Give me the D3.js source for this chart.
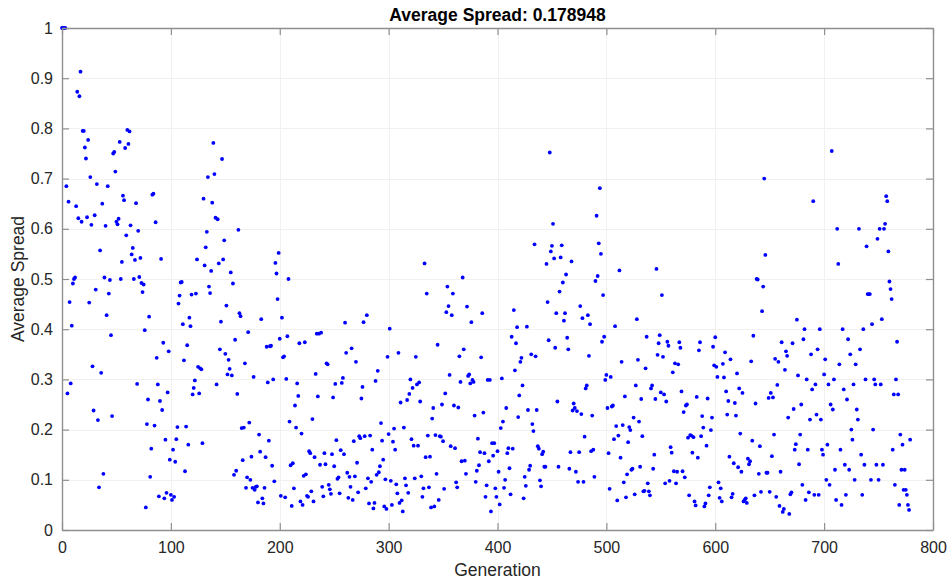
<!DOCTYPE html>
<html>
<head>
<meta charset="utf-8">
<script src="https://cdn.jsdelivr.net/npm/d3@7"></script>
<style>
  body { margin: 0; background: #fff; }
  svg { display: block; }
  text { font-family: Arial, "Liberation Sans", sans-serif; }
</style>
</head>
<body>
<svg id="chart" width="950" height="582"></svg>
<script>
// Chart text
const chartTitle = "Average Spread: 0.178948";
const xLabel = "Generation";
const yLabel = "Average Spread";

// Axis ticks
const xTicks = [0, 100, 200, 300, 400, 500, 600, 700, 800];
const xTickLabels = ["0", "100", "200", "300", "400", "500", "600", "700", "800"];
const yTicks = [0, 0.1, 0.2, 0.3, 0.4, 0.5, 0.6, 0.7, 0.8, 0.9, 1];
const yTickLabels = ["0", "0.1", "0.2", "0.3", "0.4", "0.5", "0.6", "0.7", "0.8", "0.9", "1"];

// Average spread per generation, one block of generations per array
const spread000 = [1,1,1,1,.685,.272,.654,.454,.292,.407,
  .491,.500,.503,.645,.873,.621,.864,.913,.614,.795,
  .795,.762,.740,.623,.777,.453,.703,.608,.326,.238,
  .627,.479,.689,.219,.085,.557,.313,.650,.112,.503,
  .606,.428,.685,.471,.498,.388,.227,.750,.753,.714,
  .614,.609,.620,.773,.500,.534,.666,.657,.761,.587,
  .797,.769,.794,.607,.549,.562,.500,.538,.651,.291,
  .596,.504,.542,.492,.474,.489,.398,.045,.211,.260,
  .425,.106,.162,.668,.670,.208,.613,.343,.290,.067,
  .257,.540,.239,.373,.063,.180,.074,.274,.356,.140];
const spread100 = [.070,.060,.160,.066,.136,.181,.205,.451,.467,.493,
  .494,.410,.338,.117,.206,.368,.170,.423,.406,.469,
  .270,.283,.298,.471,.539,.325,.272,.322,.320,.173,
  .660,.527,.563,.594,.703,.485,.472,.516,.652,.771,
  .709,.622,.290,.619,.531,.360,.415,.739,.539,.577,
  .351,.447,.310,.339,.321,.513,.308,.491,.110,.379,
  .118,.271,.598,.432,.426,.203,.139,.204,.332,.084,
  .105,.394,.214,.100,.146,.084,.305,.080,.086,.087,
  .055,.190,.156,.420,.063,.053,.084,.145,.365,.294,
  .178,.366,.367,.128,.300,.097,.532,.511,.460,.552];
const spread200 = [.381,.068,.423,.344,.346,.065,.301,.386,.500,.216,
  .129,.048,.133,.083,.248,.204,.292,.267,.372,.057,
  .192,.050,.108,.374,.111,.068,.066,.157,.153,.077,
  .221,.057,.145,.311,.391,.266,.391,.130,.393,.086,
  .067,.153,.131,.332,.330,.090,.081,.072,.151,.264,
  .127,.291,.179,.102,.105,.073,.159,.293,.303,.151,
  .413,.353,.114,.064,.106,.086,.362,.060,.177,.107,
  .335,.134,.075,.187,.183,.262,.285,.414,.187,.083,
  .428,.103,.053,.188,.096,.160,.043,.054,.297,.110,
  .317,.115,.127,.213,.178,.140,.047,.101,.042,.345];
const spread300 = [.191,.401,.098,.050,.176,.202,.160,.091,.073,.353,
  .054,.254,.059,.037,.204,.103,.089,.259,.074,.271,
  .300,.181,.283,.168,.103,.345,.290,.168,.294,.256,
  .107,.066,.083,.531,.145,.471,.188,.085,.146,.045,
  .222,.243,.047,.189,.112,.369,.060,.187,.186,.250,
  .177,.082,.272,.434,.485,.446,.309,.167,.428,.471,
  .248,.163,.095,.085,.244,.346,.295,.137,.503,.360,
  .138,.112,.445,.307,.310,.292,.414,.299,.295,.228,
  .096,.118,.182,.129,.155,.344,.432,.234,.153,.066,
  .089,.299,.137,.299,.037,.173,.148,.173,.083,.066];
const spread400 = [.157,.116,.051,.203,.302,.216,.084,.100,.243,.153,
  .163,.123,.071,.385,.162,.438,.318,.372,.404,.225,
  .268,.335,.343,.288,.063,.106,.088,.405,.239,.120,
  .128,.350,.211,.197,.569,.346,.239,.167,.162,.099,
  .087,.151,.156,.126,.126,.530,.454,.378,.752,.555,
  .566,.610,.541,.363,.432,.256,.126,.475,.543,.567,
  .493,.417,.432,.509,.383,.360,.122,.155,.535,.238,
  .252,.243,.116,.237,.096,.155,.446,.231,.422,.096,
  .186,.282,.288,.428,.347,.410,.157,.228,.160,.106,
  .496,.626,.506,.571,.681,.550,.375,.468,.385,.299];
const spread500 = [.309,.243,.153,.082,.305,.246,.248,.181,.406,.207,
  .059,.188,.517,.144,.335,.209,.095,.266,.065,.111,
  .175,.205,.199,.120,.122,.224,.071,.288,.420,.339,
  .216,.126,.261,.187,.077,.078,.322,.385,.093,.077,
  .069,.282,.288,.122,.150,.261,.520,.349,.372,.388,
  .274,.468,.345,.270,.093,.256,.375,.367,.098,.165,
  .154,.314,.117,.332,.093,.116,.330,.374,.363,.276,
  .117,.235,.105,.248,.250,.184,.069,.189,.188,.154,
  .185,.057,.049,.265,.144,.358,.374,.187,.227,.204,
  .047,.053,.168,.262,.069,.085,.199,.224,.365,.328];
const spread600 = [.384,.325,.305,.095,.064,.083,.057,.331,.304,.354,
  .276,.230,.257,.146,.340,.065,.072,.133,.253,.228,
  .312,.125,.282,.192,.116,.273,.057,.060,.063,.054,
  .142,.131,.137,.336,.178,.387,.069,.252,.500,.499,
  .112,.167,.076,.436,.485,.700,.548,.114,.114,.263,
  .076,.273,.147,.264,.190,.341,.066,.289,.335,.048,
  .116,.374,.036,.042,.319,.356,.347,.224,.032,.071,
  .075,.372,.241,.160,.171,.419,.308,.131,.190,.250,
  .090,.380,.400,.060,.300,.160,.075,.220,.350,.280,
  .655,.070,.290,.230,.360,.070,.400,.220,.160,.150];
const spread700 = [.310,.340,.100,.170,.290,.090,.250,.755,.240,.300,
  .120,.060,.600,.530,.330,.160,.050,.400,.280,.130,
  .070,.260,.380,.120,.350,.200,.180,.290,.100,.330,
  .240,.220,.600,.360,.150,.070,.400,.130,.300,.565,
  .470,.470,.470,.100,.410,.200,.300,.290,.130,.580,
  .100,.600,.290,.420,.130,.600,.610,.665,.655,.555,
  .495,.480,.460,.160,.270,.090,.300,.375,.270,.050,
  .190,.120,.170,.080,.120,.080,.070,.050,.040,.180];

const spreadBlocks = [spread000, spread100, spread200, spread300, spread400, spread500, spread600, spread700];
const points = spreadBlocks.flat().map((v, i) => ({ generation: i, spread: v }));

// Layout
const svg = d3.select("#chart");
const W = 950, H = 582;
const plot = { left: 62, right: 933, top: 28, bottom: 530 };

const x = d3.scaleLinear().domain([0, 800]).range([plot.left, plot.right]);
const y = d3.scaleLinear().domain([0, 1]).range([plot.bottom, plot.top]);

svg.append("rect").attr("width", W).attr("height", H).attr("fill", "#fff");

// Faint grid
const grid = svg.append("g").attr("stroke", "#f1f1f1").attr("stroke-width", 1);
grid.selectAll("line.gx").data(xTicks.slice(1, -1)).join("line")
  .attr("x1", d => Math.round(x(d)) + 0.5).attr("x2", d => Math.round(x(d)) + 0.5)
  .attr("y1", plot.top).attr("y2", plot.bottom);
grid.selectAll("line.gy").data(yTicks.slice(1, -1)).join("line")
  .attr("x1", plot.left).attr("x2", plot.right)
  .attr("y1", d => Math.round(y(d)) + 0.5).attr("y2", d => Math.round(y(d)) + 0.5);

// Scatter points
svg.append("g").selectAll("circle").data(points).join("circle")
  .attr("cx", d => x(d.generation))
  .attr("cy", d => y(d.spread))
  .attr("r", 1.9)
  .attr("fill", "#0000ff");

// Axes with inward ticks on all four sides
const axisColor = "#8f8f8f";
const tickLen = 7;
function styleAxis(g) {
  g.select(".domain").attr("stroke", axisColor).attr("stroke-width", 1.4);
  g.selectAll(".tick line").attr("stroke", axisColor).attr("stroke-width", 1.2);
  g.selectAll(".tick text").attr("fill", "#262626").style("font-size", "16px")
    .style("font-family", "Arial, 'Liberation Sans', sans-serif");
}

svg.append("g").attr("transform", `translate(0,${plot.bottom})`)
  .call(d3.axisBottom(x).tickValues(xTicks).tickFormat((d, i) => xTickLabels[i])
    .tickSizeInner(-tickLen).tickSizeOuter(0).tickPadding(12))
  .call(styleAxis);
svg.append("g").attr("transform", `translate(0,${plot.top})`)
  .call(d3.axisTop(x).tickValues(xTicks).tickFormat("")
    .tickSizeInner(-tickLen).tickSizeOuter(0))
  .call(styleAxis);
svg.append("g").attr("transform", `translate(${plot.left},0)`)
  .call(d3.axisLeft(y).tickValues(yTicks).tickFormat((d, i) => yTickLabels[i])
    .tickSizeInner(-tickLen).tickSizeOuter(0).tickPadding(9))
  .call(styleAxis);
svg.append("g").attr("transform", `translate(${plot.right},0)`)
  .call(d3.axisRight(y).tickValues(yTicks).tickFormat("")
    .tickSizeInner(-tickLen).tickSizeOuter(0))
  .call(styleAxis);

// Titles
svg.append("text").attr("x", (plot.left + plot.right) / 2).attr("y", 21)
  .attr("text-anchor", "middle").attr("font-weight", "bold")
  .style("font-size", "17.5px").attr("fill", "#000").text(chartTitle);
svg.append("text").attr("x", (plot.left + plot.right) / 2).attr("y", 576)
  .attr("text-anchor", "middle").style("font-size", "17.5px").attr("fill", "#262626").text(xLabel);
svg.append("text").attr("transform", `translate(24,${(plot.top + plot.bottom) / 2}) rotate(-90)`)
  .attr("text-anchor", "middle").style("font-size", "17.5px").attr("fill", "#262626").text(yLabel);
</script>
</body>
</html>
